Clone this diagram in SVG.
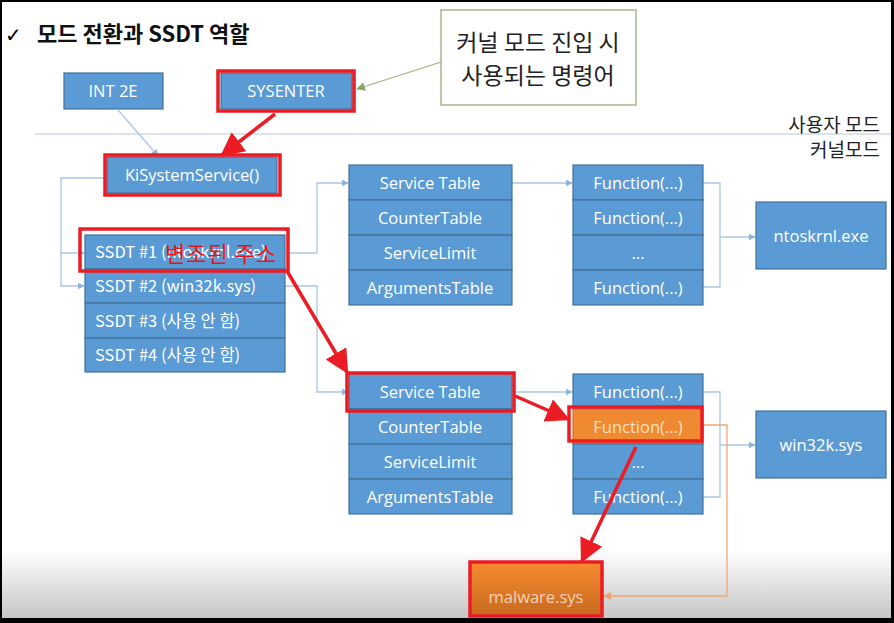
<svg xmlns="http://www.w3.org/2000/svg" width="894" height="623" viewBox="0 0 894 623">
<defs>
<style>
.box{fill:#5b9bd5;stroke:#41719c;stroke-width:1.2}
.t{font-family:"Open Sans","Liberation Sans","Noto Sans CJK KR",sans-serif;font-size:16.5px;fill:#ffffff;text-anchor:middle}
.kr{font-family:"Noto Sans CJK KR","Liberation Sans",sans-serif}
.conn{fill:none;stroke:#a9c6e6;stroke-width:1.3}
.red{fill:none;stroke:#ec1c24;stroke-width:3.5}
.redl{fill:none;stroke:#ec1c24;stroke-width:3.5}
</style>
<marker id="ab" viewBox="0 0 10 10" refX="9" refY="5" markerWidth="7" markerHeight="7" markerUnits="userSpaceOnUse" orient="auto"><path d="M0,0 L10,5 L0,10 z" fill="#8fb4dd"/></marker>
<marker id="ag" viewBox="0 0 10 10" refX="9" refY="5" markerWidth="9" markerHeight="9" markerUnits="userSpaceOnUse" orient="auto"><path d="M0,0 L10,5 L0,10 z" fill="#8aa860"/></marker>
<marker id="ao" viewBox="0 0 10 10" refX="9" refY="5" markerWidth="8" markerHeight="8" markerUnits="userSpaceOnUse" orient="auto"><path d="M0,0 L10,5 L0,10 z" fill="#f0a070"/></marker>
<marker id="ar" viewBox="0 0 10 10" refX="9" refY="5" markerWidth="24" markerHeight="24" markerUnits="userSpaceOnUse" orient="auto"><path d="M0,0 L10,5 L0,10 z" fill="#ec1c24"/></marker>
<linearGradient id="bg" x1="0" y1="0" x2="0" y2="1"><stop offset="0" stop-color="#ffffff"/><stop offset="1" stop-color="#c4c4c4"/></linearGradient>
<linearGradient id="og" x1="0" y1="0" x2="0" y2="1"><stop offset="0" stop-color="#f68a30"/><stop offset="1" stop-color="#c86a20"/></linearGradient>
</defs>
<rect x="0" y="0" width="894" height="623" fill="#ffffff"/>
<rect x="0" y="550" width="894" height="70" fill="url(#bg)"/>

<text x="5" y="42" font-family="DejaVu Sans,sans-serif" font-size="20" fill="#000">✓</text>
<text x="37" y="42" class="kr" font-size="22" font-weight="bold" fill="#111">모드 전환과 SSDT 역할</text>

<line x1="35" y1="134" x2="894" y2="134" stroke="#b4c8dc" stroke-width="1.2"/>
<text x="880" y="132" class="kr" font-size="19" fill="#222" text-anchor="end">사용자 모드</text>
<text x="880" y="157" class="kr" font-size="19" fill="#222" text-anchor="end">커널모드</text>

<g id="connectors">
<line x1="118" y1="110" x2="158" y2="156" class="conn" marker-end="url(#ab)"/>
<polyline points="107,178 61,178 61,253 84,253" class="conn" marker-end="url(#ab)"/>
<polyline points="61,253 61,286 84,286" class="conn" marker-end="url(#ab)"/>
<polyline points="285,253 317,253 317,183 348,183" class="conn" marker-end="url(#ab)"/>
<polyline points="285,286 317,286 317,392 348,392" class="conn" marker-end="url(#ab)"/>
<line x1="512" y1="183" x2="572" y2="183" class="conn" marker-end="url(#ab)"/>
<line x1="512" y1="392" x2="572" y2="392" class="conn" marker-end="url(#ab)"/>
<polyline points="703,183 720,183 720,287 703,287" class="conn"/>
<line x1="720" y1="237" x2="755" y2="237" class="conn" marker-end="url(#ab)"/>
<polyline points="703,392 720,392 720,497 703,497" class="conn"/>
<line x1="720" y1="445" x2="755" y2="445" class="conn" marker-end="url(#ab)"/>
<polyline points="703,425 727,425 727,596 604,596" fill="none" stroke="#f0a878" stroke-width="1.3" marker-end="url(#ao)"/>
<line x1="441" y1="62" x2="357" y2="89" stroke="#9ab878" stroke-width="1.2" marker-end="url(#ag)"/>
</g>

<g id="callout">
<rect x="441" y="10" width="195" height="95" fill="#ffffff" stroke="#a6b88a" stroke-width="1.5"/>
<text x="538" y="51" class="kr" font-size="23" fill="#222" text-anchor="middle">커널 모드 진입 시</text>
<text x="538" y="84" class="kr" font-size="23" fill="#222" text-anchor="middle">사용되는 명령어</text>
</g>

<g id="int2e">
<rect x="64" y="73" width="99" height="36" class="box"/>
<text x="113" y="97" class="t">INT 2E</text>
</g>
<g id="sysenter">
<rect x="221" y="73" width="131" height="36" class="box"/>
<text x="286" y="97" class="t">SYSENTER</text>
</g>
<g id="kisystemservice">
<rect x="107" y="157" width="170" height="36" class="box"/>
<text x="192" y="181" class="t">KiSystemService()</text>
</g>

<g id="ssdt">
<rect x="85" y="235" width="200" height="34" class="box"/>
<rect x="85" y="269" width="200" height="34" class="box"/>
<rect x="85" y="303" width="200" height="35" class="box"/>
<rect x="85" y="338" width="200" height="34" class="box"/>
<text x="95" y="258" class="t kr" style="text-anchor:start">SSDT #1 (ntoskrnl.exe)</text>
<text x="95" y="292" class="t kr" style="text-anchor:start">SSDT #2 (win32k.sys)</text>
<text x="95" y="327" class="t kr" style="text-anchor:start">SSDT #3 (사용 안 함)</text>
<text x="95" y="361" class="t kr" style="text-anchor:start">SSDT #4 (사용 안 함)</text>
</g>

<g id="table1">
<rect x="349" y="165" width="163" height="35" class="box"/>
<rect x="349" y="200" width="163" height="35" class="box"/>
<rect x="349" y="235" width="163" height="35" class="box"/>
<rect x="349" y="270" width="163" height="35" class="box"/>
<text x="430" y="189" class="t">Service Table</text>
<text x="430" y="224" class="t">CounterTable</text>
<text x="430" y="259" class="t">ServiceLimit</text>
<text x="430" y="294" class="t">ArgumentsTable</text>
</g>
<g id="table2">
<rect x="349" y="374" width="163" height="35" class="box"/>
<rect x="349" y="409" width="163" height="35" class="box"/>
<rect x="349" y="444" width="163" height="35" class="box"/>
<rect x="349" y="479" width="163" height="35" class="box"/>
<text x="430" y="398" class="t">Service Table</text>
<text x="430" y="433" class="t">CounterTable</text>
<text x="430" y="468" class="t">ServiceLimit</text>
<text x="430" y="503" class="t">ArgumentsTable</text>
</g>

<g id="functions1">
<rect x="573" y="165" width="130" height="35" class="box"/>
<rect x="573" y="200" width="130" height="35" class="box"/>
<rect x="573" y="235" width="130" height="35" class="box"/>
<rect x="573" y="270" width="130" height="35" class="box"/>
<text x="638" y="189" class="t">Function(...)</text>
<text x="638" y="224" class="t">Function(...)</text>
<text x="638" y="259" class="t">...</text>
<text x="638" y="294" class="t">Function(...)</text>
</g>
<g id="functions2">
<rect x="573" y="374" width="130" height="35" class="box"/>
<rect x="573" y="409" width="130" height="35" fill="#f08a32" stroke="#c8702a" stroke-width="1.2"/>
<rect x="573" y="444" width="130" height="35" class="box"/>
<rect x="573" y="479" width="130" height="35" class="box"/>
<text x="638" y="398" class="t">Function(...)</text>
<text x="638" y="433" class="t" style="fill:#fbe0c4">Function(...)</text>
<text x="638" y="468" class="t">...</text>
<text x="638" y="503" class="t">Function(...)</text>
</g>

<g id="ntoskrnl">
<rect x="756" y="202" width="130" height="67" class="box"/>
<text x="821" y="242" class="t">ntoskrnl.exe</text>
</g>
<g id="win32k">
<rect x="756" y="411" width="130" height="67" class="box"/>
<text x="821" y="451" class="t">win32k.sys</text>
</g>
<g id="malware">
<rect x="471" y="563" width="130" height="52" fill="url(#og)"/>
<text x="536" y="603" class="t" style="fill:#f4d2b0">malware.sys</text>
</g>

<g id="highlights">
<rect x="218" y="71" width="136" height="40" class="red"/>
<rect x="105" y="155" width="175" height="40" class="red"/>
<rect x="80" y="229" width="208" height="42" class="red"/>
<rect x="347" y="373" width="167" height="38" class="red"/>
<rect x="569" y="407" width="133" height="34" class="red"/>
<rect x="470" y="562" width="132" height="54" class="red"/>
<text x="165" y="262" class="kr" font-size="22" letter-spacing="1" fill="#ee1111">변조된 주소</text>
<line x1="275" y1="114" x2="222" y2="155" class="redl" marker-end="url(#ar)"/>
<line x1="287" y1="271" x2="347" y2="372" class="redl" marker-end="url(#ar)"/>
<line x1="515" y1="396" x2="568" y2="419" class="redl" marker-end="url(#ar)"/>
<line x1="636" y1="447" x2="582" y2="561" class="redl" marker-end="url(#ar)"/>
</g>

<rect x="0" y="0" width="894" height="2" fill="#000"/>
<rect x="0" y="0" width="2" height="623" fill="#000"/>
<rect x="891" y="0" width="3" height="623" fill="#000"/>
<rect x="0" y="618" width="894" height="5" fill="#000"/>
</svg>
